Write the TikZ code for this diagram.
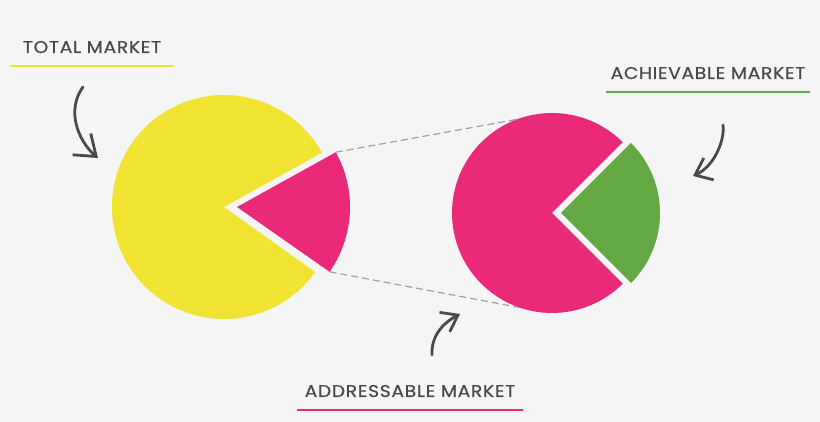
\documentclass[tikz,border=0pt]{standalone}
\usepackage{fontspec}
\setmainfont{Poppins}
\newfontfamily\mktfont{Poppins}[FakeStretch=1.1, LetterSpace=4, FakeBold=0.5]
\usetikzlibrary{arrows.meta, positioning}

\definecolor{bggray}{HTML}{F5F5F5}
\definecolor{inkgray}{HTML}{4A4A4A}
\definecolor{dashgray}{HTML}{A0A0A0}
\definecolor{mktyellow}{HTML}{F0E332}
\definecolor{mktpink}{HTML}{EA2A78}
\definecolor{mktgreen}{HTML}{64A844}

\begin{document}
\begin{tikzpicture}[x=1pt, y=1pt]
\tikzstyle{mkt} = [font=\mktfont\fontsize{17}{19}\selectfont, text=inkgray, inner xsep=0pt, inner ysep=13pt, anchor=base]
\tikzstyle{rule} = [line width=2pt]
\tikzstyle{guide} = [draw=dashgray, line width=1.2pt, dash pattern=on 7pt off 4pt]
\tikzstyle{pointer} = [draw=inkgray, line width=2.8pt, line cap=round, line join=round]
\useasboundingbox[fill=bggray] (0,0) rectangle (820,422);

% pies
\coordinate (tm) at (224,215);
\coordinate (sam) at (237,215);
\coordinate (am) at (552,209);
\coordinate (som) at (561,209);
\fill[mktyellow] (tm) -- ++(29:112) arc[start angle=29, end angle=324.5, radius=112] -- cycle;
\fill[mktpink] (sam) -- ++(-35:113) arc[start angle=-35, end angle=29, radius=113] -- cycle;
\fill[mktpink] (am) -- ++(45:100) arc[start angle=45, end angle=315, radius=100] -- cycle;
\fill[mktgreen] (som) -- ++(-45:99) arc[start angle=-45, end angle=45, radius=99] -- cycle;

% zoom guides
\coordinate (sam-top) at ([shift={(29:113)}]sam);
\coordinate (sam-bot) at ([shift={(-35:113)}]sam);
\coordinate (am-top) at ([shift={(110.6:100)}]am);
\coordinate (am-bot) at ([shift={(250.8:100)}]am);
\draw[guide] (sam-top) -- (am-top);
\draw[guide] (sam-bot) -- (am-bot);

% labels
\node[mkt, minimum width=163pt] (tm-lbl) at (92,369) {TOTAL MARKET};
\node[mkt, minimum width=203pt] (som-lbl) at (708,343) {ACHIEVABLE MARKET};
\node[mkt, minimum width=226pt] (sam-lbl) at (410,25) {ADDRESSABLE MARKET};
\draw[rule, mktyellow] (tm-lbl.south west) -- (tm-lbl.south east);
\draw[rule, mktgreen] (som-lbl.south west) -- (som-lbl.south east);
\draw[rule, mktpink] (sam-lbl.south west) -- (sam-lbl.south east);

% pointers
\coordinate (tm-from) at (83,335);
\coordinate (tm-to) at (98,264);
\coordinate (som-from) at (723,297);
\coordinate (som-to) at (693,246);
\coordinate (sam-from) at (432,67);
\coordinate (sam-to) at (460,108);
\draw[pointer, -{Straight Barb[length=19pt, width=28pt]}] (tm-from) .. controls (66,312) and (78,281) .. (tm-to);
\draw[pointer, -{Straight Barb[length=15pt, width=24pt]}] (som-from) .. controls (725,280) and (713,255) .. (som-to);
\draw[pointer, -{Straight Barb[length=15pt, width=22pt]}] (sam-from) .. controls (431,85) and (442,98.5) .. (sam-to);
\end{tikzpicture}
\end{document}
